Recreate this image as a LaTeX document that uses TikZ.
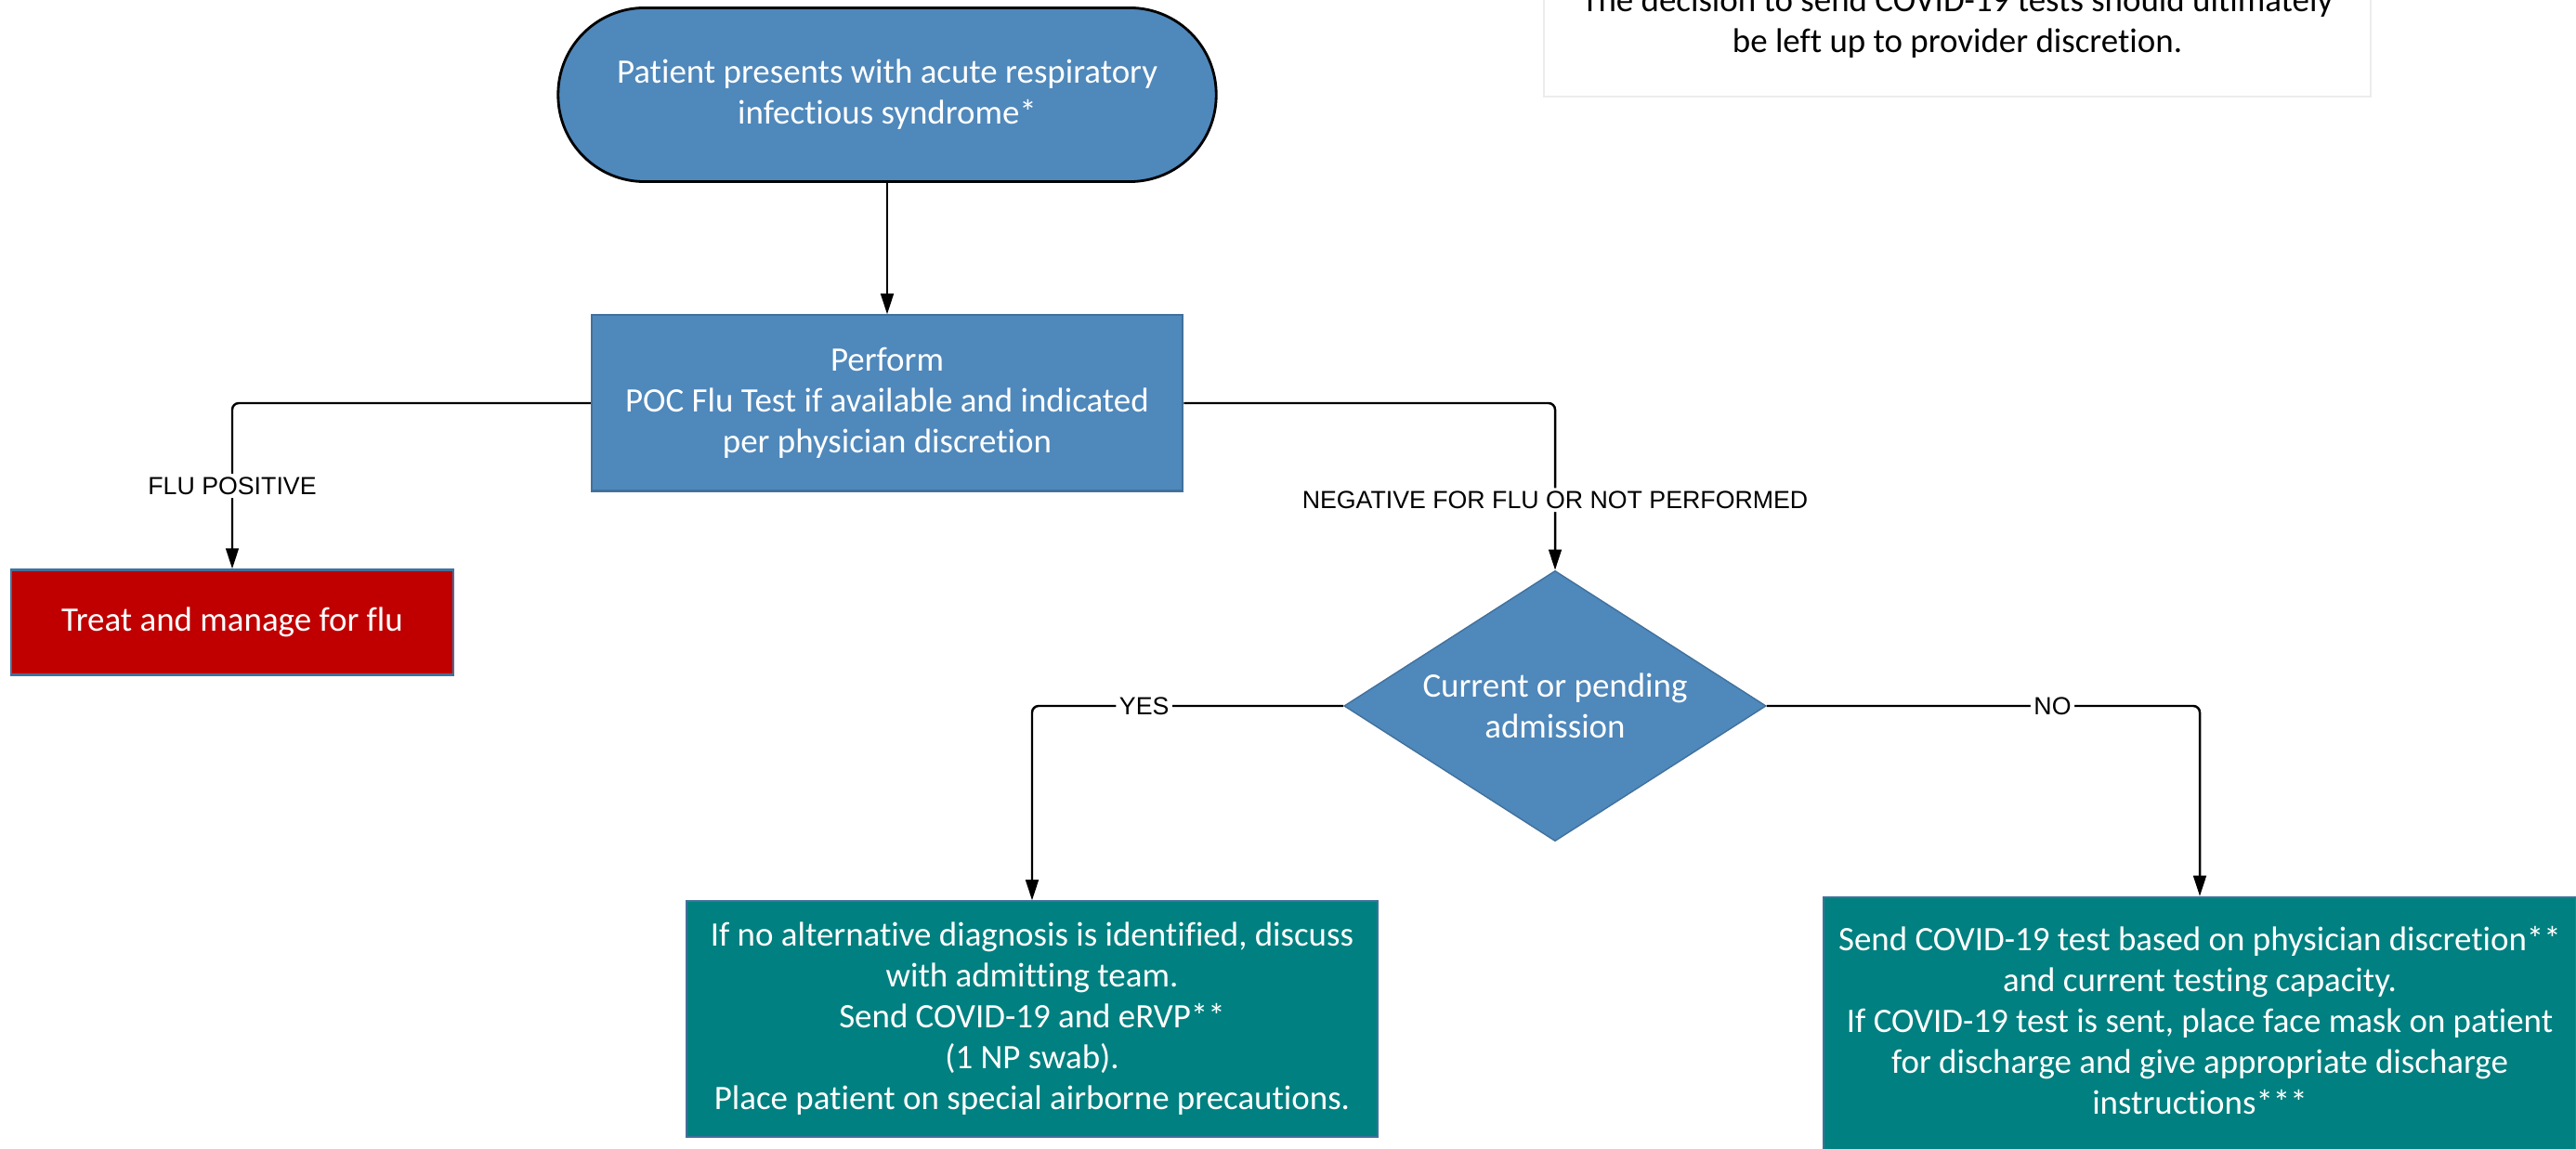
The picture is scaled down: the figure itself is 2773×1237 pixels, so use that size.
\documentclass[tikz,border=0pt]{standalone}
\usepackage{fontspec}
\setmainfont{Carlito}[Ligatures=NoCommon]
\newfontfamily\tagfont{Liberation Sans}
\usepackage{tikz}
\usetikzlibrary{arrows.meta,shapes,calc,positioning}
\definecolor{blueBox}{RGB}{79,136,187}
\definecolor{blueEdge}{RGB}{65,113,156}
\definecolor{redBox}{RGB}{192,0,0}
\definecolor{tealBox}{RGB}{0,128,128}
\definecolor{greyNote}{RGB}{236,236,236}
\tikzstyle{edge}    =[->, >={Triangle[length=6.3pt,width=3.9pt]},
                      line width=0.7pt, rounded corners=2pt]
\tikzstyle{tag}     =[fill=white, inner sep=1pt,
                      font=\tagfont\fontsize{7.6}{9}\selectfont]
\tikzstyle{terminal}=[rectangle, rounded corners=9.3mm, draw=black,
                      line width=0.8pt, fill=blueBox, text=white,
                      align=center, minimum width=7.08cm,
                      minimum height=1.87cm, inner sep=0pt]
\tikzstyle{process} =[rectangle, draw=blueEdge, line width=0.6pt,
                      text=white, align=center, inner sep=0pt]
\tikzstyle{decision}=[diamond, draw=blueEdge, line width=0.4pt,
                      fill=blueBox, text=white, align=center,
                      aspect=1.56, minimum width=4.54cm,
                      minimum height=2.91cm, inner sep=0pt]
\tikzstyle{note}    =[rectangle, draw=greyNote, line width=0.5pt,
                      fill=white, align=center, minimum width=8.9cm,
                      minimum height=1.58cm, inner sep=0pt]

\begin{document}
\begin{tikzpicture}[x=0.01cm, y=-0.01cm,
                    font=\fontsize{10.5}{12.5}\selectfont]
    \useasboundingbox (0,0) rectangle (2773,1237);
    \clip (0,0) rectangle (2773,1237);

    % top of the chart
    \draw (955,102) node(start)[terminal]
        {Patient presents with acute respiratory\\infectious syndrome*};
    \draw (955,434) node(perf)[process,fill=blueBox,
        minimum width=6.36cm,minimum height=1.89cm]
        {Perform\\POC Flu Test if available and indicated\\per physician discretion};
    \draw (250,670) node(flu)[process,fill=redBox,
        minimum width=4.76cm,minimum height=1.13cm]
        {Treat and manage for flu};
    \draw (1674,760) node(ask)[decision] {Current or pending\\admission};

    % outcomes
    \draw (1111,1097) node(admit)[process,fill=tealBox,
        minimum width=7.43cm,minimum height=2.53cm]
        {If no alternative diagnosis is identified, discuss\\with admitting team.\\
         Send COVID-19 and eRVP**\\(1 NP swab).\\Place patient on special airborne precautions.};
    \draw (2368,1121) node(home)[process,fill=tealBox,
        minimum width=8.1cm,minimum height=3.1cm,text depth=0.46cm]
        {Send COVID-19 test based on physician discretion**\\and current testing capacity.\\
         If COVID-19 test is sent, place face mask on patient\\for discharge and give appropriate discharge\\instructions***};

    \draw (2107,25) node(remark)[note]
        {The decision to send COVID-19 tests should ultimately\\be left up to provider discretion.};

    % connectors
    \draw [edge] (start) -- (perf);
    \draw [edge] (perf.west) -| node[tag,pos=0.75]{FLU POSITIVE} (flu.north);
    \draw [edge] (perf.east) -| node[tag,pos=0.79]{NEGATIVE FOR FLU OR NOT PERFORMED} (ask.north);
    \draw [edge] (ask.west) -| node[tag,pos=0.32]{YES} (admit.north);
    \draw [edge] (ask.east) -| node[tag,pos=0.33]{NO} (home.north);
\end{tikzpicture}
\end{document}
